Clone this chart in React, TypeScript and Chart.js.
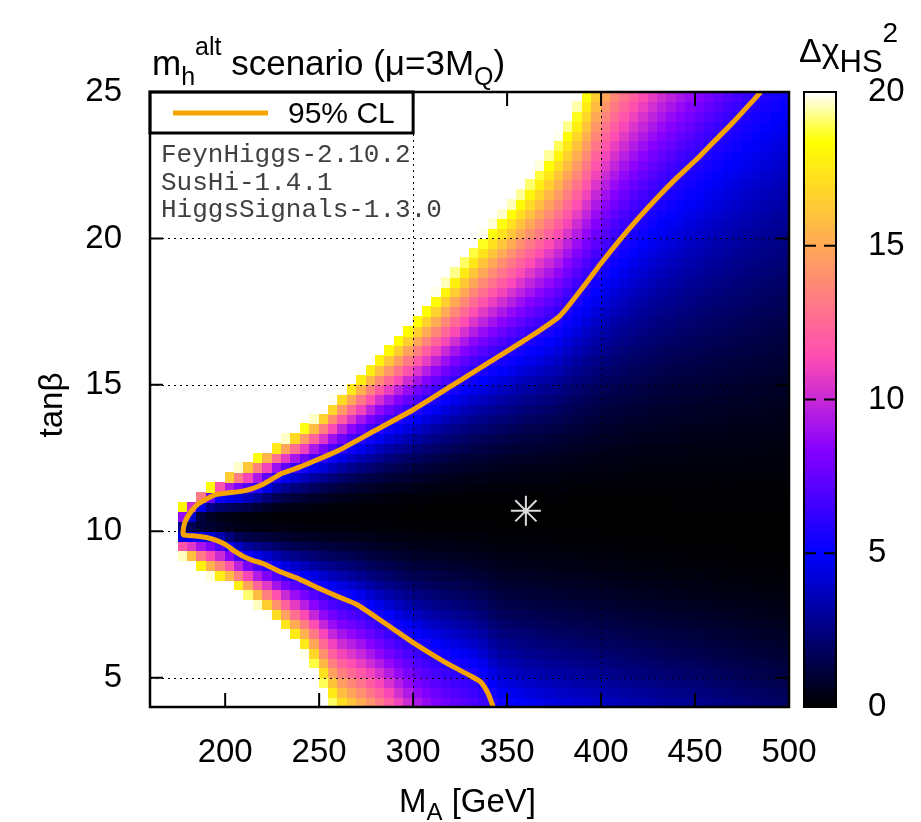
import React, { useEffect, useRef } from 'react';
import { Chart, registerables } from 'chart.js';

Chart.register(...registerables);

// ---------- data ----------
// Heatmap columns (M_A grid points, GeV)
const MA_COLUMNS = [
  175, 180, 185, 190, 195, 200, 205, 210, 215, 220,
  225, 230, 235, 240, 245, 250, 255, 260, 265, 270,
  275, 280, 285, 290, 295, 300, 305, 310, 315, 320,
  325, 330, 335, 340, 345, 350, 355, 360, 365, 370,
  375, 380, 385, 390, 395, 400, 405, 410, 415, 420,
  425, 430, 435, 440, 445, 450, 455, 460, 465, 470,
  475, 480, 485, 490, 495, 500,
];
// tanβ of the Δχ² minimum in each column
const CENTER_TANB = [
  10.0, 10.1, 10.2, 10.25, 10.3, 10.35, 10.4, 10.4, 10.45, 10.45,
  10.5, 10.5, 10.5, 10.5, 10.55, 10.55, 10.55, 10.6, 10.6, 10.6,
  10.6, 10.6, 10.65, 10.65, 10.65, 10.65, 10.65, 10.7, 10.7, 10.7,
  10.7, 10.7, 10.7, 10.7, 10.7, 10.7, 10.7, 10.7, 10.7, 10.65,
  10.65, 10.6, 10.6, 10.55, 10.5, 10.5, 10.45, 10.4, 10.4, 10.35,
  10.3, 10.3, 10.25, 10.2, 10.2, 10.15, 10.1, 10.1, 10.05, 10.0,
  10.0, 9.95, 9.9, 9.9, 9.85, 9.8,
];
// tanβ where Δχ² = 6 (95% CL), above the minimum
const UPPER_CL_TANB = [
  10.3, 10.45, 10.9, 11.1, 11.25, 11.3, 11.32, 11.38, 11.45, 11.6,
  11.8, 11.97, 12.1, 12.2, 12.35, 12.47, 12.6, 12.75, 12.92, 13.1,
  13.27, 13.45, 13.62, 13.8, 13.97, 14.15, 14.35, 14.55, 14.75, 14.95,
  15.17, 15.4, 15.57, 15.75, 15.95, 16.15, 16.35, 16.55, 16.75, 16.95,
  17.18, 17.5, 17.9, 18.3, 18.7, 19.15, 19.55, 19.95, 20.32, 20.7,
  21.05, 21.4, 21.72, 22.05, 22.35, 22.65, 22.97, 23.3, 23.62, 23.95,
  24.3, 24.65, 25.0, 25.35, 25.67, 26.0,
];
// tanβ where Δχ² = 6 (95% CL), below the minimum
const LOWER_CL_TANB = [
  9.75, 9.88, 9.83, 9.79, 9.7, 9.55, 9.32, 9.13, 9.0, 8.9,
  8.76, 8.6, 8.46, 8.35, 8.22, 8.05, 7.9, 7.77, 7.63, 7.5,
  7.3, 7.08, 6.86, 6.64, 6.42, 6.2, 6.0, 5.8, 5.6, 5.42,
  5.25, 5.08, 4.9, 4.45, 3.85, 3.67, 3.5, 3.35, 3.2, 3.05,
  2.9, 2.8, 2.7, 2.6, 2.5, 2.4, 2.25, 2.1, 1.95, 1.8,
  1.65, 1.5, 1.35, 1.25, 1.15, 1.05, 0.85, 0.65, 0.45, 0.25,
  0.05, -0.15, -0.35, -0.55, -0.75, -0.95,
];
// tanβ where Δχ² reaches 20 (white edge), above the minimum
const UPPER_MAX_TANB = [
  10.8, 11.05, 11.25, 11.45, 11.7, 11.9, 12.1, 12.3, 12.5, 12.7,
  12.9, 13.1, 13.3, 13.5, 13.75, 14.0, 14.35, 14.7, 15.0, 15.3,
  15.65, 16.0, 16.3, 16.6, 16.95, 17.3, 17.65, 18.0, 18.4, 18.8,
  19.2, 19.6, 20.0, 20.4, 20.75, 21.1, 21.5, 21.9, 22.35, 22.8,
  23.3, 23.8, 24.4, 25.0, 25.9, 26.9, 27.6, 28.2, 28.8, 29.3,
  29.8, 30.3, 30.7, 31.1, 31.5, 31.9, 32.3, 32.8, 33.3, 33.8,
  34.3, 34.8, 35.3, 35.8, 36.3, 36.8,
];
// tanβ where Δχ² reaches 20 (white edge), below the minimum
const LOWER_MAX_TANB = [
  9.2, 9.05, 8.8, 8.55, 8.4, 8.25, 8.1, 7.9, 7.6, 7.3,
  7.0, 6.7, 6.35, 6.0, 5.6, 4.95, 4.25, 3.6, 3.3, 3.0,
  2.7, 2.35, 2.0, 1.4, 0.7, 0.0, -0.7, -1.4, -2.1, -2.8,
  -3.5, -4.2, -4.9, -5.6, -6.2, -6.8, -7.1, -7.4, -7.6, -7.8,
  -8.0, -8.2, -8.4, -8.6, -8.8, -9.0, -9.2, -9.4, -9.6, -9.8,
  -10.0, -10.2, -10.4, -10.6, -10.8, -11.0, -11.2, -11.4, -11.6, -11.8,
  -12.0, -12.2, -12.4, -12.6, -12.8, -13.0,
];
const TANB_MIN = 4;
const TANB_MAX = 25;
const TANB_ROWS = 63;

// 95% CL contour line
const CL95_MA = [
  485, 470, 460, 450, 440, 430, 420, 410, 400, 390,
  378, 360, 340, 320, 300, 280, 260, 250, 240, 230,
  220, 210, 200, 195, 190, 185, 181, 178.5, 177.6, 177.8,
  179.5, 185, 190, 195, 200, 205, 210, 215, 220, 230,
  240, 250, 260, 270, 280, 290, 300, 310, 320, 330,
  336, 340, 342.6,
];
const CL95_TANB = [
  25.0, 23.95, 23.3, 22.65, 22.05, 21.4, 20.7, 19.95, 19.15, 18.3,
  17.35, 16.55, 15.75, 14.95, 14.15, 13.45, 12.75, 12.47, 12.2, 11.97,
  11.6, 11.38, 11.3, 11.25, 11.1, 10.9, 10.6, 10.3, 10.0, 9.88,
  9.86, 9.83, 9.79, 9.7, 9.55, 9.32, 9.13, 9.0, 8.9, 8.6,
  8.35, 8.05, 7.77, 7.5, 7.08, 6.64, 6.2, 5.8, 5.42, 5.08,
  4.85, 4.45, 4.0,
];
// best fit point
const BEST_FIT = { x: 360, y: 10.7 };

const X_TICKS = [200, 250, 300, 350, 400, 450, 500];
const Y_TICKS = [5, 10, 15, 20, 25];
const CB_TICKS = [0, 5, 10, 15, 20];
const GRID_X = [300, 400];
const GRID_Y = [5, 10, 15, 20];
const CL_LEVEL = 6;
const CB_MAX = 20;
const INFO_LINES = ['FeynHiggs-2.10.2', 'SusHi-1.4.1', 'HiggsSignals-1.3.0'];

// ---------- helpers ----------
const clamp01 = (v: number) => Math.max(0, Math.min(1, v));
// gnuplot rgbformulae 30,31,32
function palette(value: number): string {
  const x = clamp01(value / CB_MAX);
  const r = clamp01(x / 0.32 - 0.78125);
  const g = clamp01(2 * x - 0.84);
  let b: number;
  if (x < 0.25) b = 4 * x;
  else if (x < 0.42) b = 1;
  else if (x < 0.92) b = -2 * x + 1.84;
  else b = x / 0.08 - 11.5;
  b = clamp01(b);
  return `rgb(${Math.round(r * 255)},${Math.round(g * 255)},${Math.round(b * 255)})`;
}

const INNER_POWER = 1.8;
function chiAt(i: number, t: number): number {
  const c = CENTER_TANB[i];
  const s6 = Math.sqrt(CL_LEVEL);
  const s20 = Math.sqrt(CB_MAX);
  let cl: number, mx: number;
  if (t >= c) {
    cl = UPPER_CL_TANB[i];
    mx = UPPER_MAX_TANB[i];
  } else {
    cl = LOWER_CL_TANB[i];
    mx = LOWER_MAX_TANB[i];
  }
  const d = Math.abs(t - c);
  const dcl = Math.abs(cl - c);
  if (d <= dcl) return CL_LEVEL * Math.pow(d / dcl, INNER_POWER);
  const s = s6 + ((d - dcl) / Math.abs(mx - cl)) * (s20 - s6);
  return s * s;
}

const FONT = 'Liberation Sans';

function drawRich(ctx: CanvasRenderingContext2D, x: number, y: number,
  parts: { t: string; s: number; dy: number }[]) {
  let cx = x;
  ctx.textAlign = 'left';
  ctx.textBaseline = 'alphabetic';
  for (const p of parts) {
    ctx.font = `${p.s}px "${FONT}"`;
    ctx.fillText(p.t, cx, y + p.dy);
    cx += ctx.measureText(p.t).width;
  }
}

const heatmapPlugin = {
  id: 'heatmap',
  beforeDatasetsDraw(chart: any) {
    const { ctx, chartArea: a, scales } = chart;
    const xs = scales.x;
    const ys = scales.y;
    const rows: number[] = [];
    for (let k = 0; k <= TANB_ROWS; k++) rows.push(TANB_MIN + (k * (TANB_MAX - TANB_MIN)) / TANB_ROWS);
    const vals = MA_COLUMNS.map((_, i) => rows.map((t) => chiAt(i, t)));
    ctx.save();
    ctx.beginPath();
    ctx.rect(a.left, a.top, a.right - a.left, a.bottom - a.top);
    ctx.clip();
    for (let i = 0; i < MA_COLUMNS.length - 1; i++) {
      const x0 = Math.floor(xs.getPixelForValue(MA_COLUMNS[i]));
      const x1 = Math.ceil(xs.getPixelForValue(MA_COLUMNS[i + 1]));
      for (let j = 0; j < rows.length - 1; j++) {
        const v = (vals[i][j] + vals[i + 1][j] + vals[i][j + 1] + vals[i + 1][j + 1]) / 4;
        if (v >= CB_MAX) continue;
        const yTop = Math.floor(ys.getPixelForValue(rows[j + 1]));
        const yBot = Math.ceil(ys.getPixelForValue(rows[j]));
        ctx.fillStyle = palette(v);
        ctx.fillRect(x0, yTop, x1 - x0, yBot - yTop);
      }
    }
    // dotted grid
    ctx.strokeStyle = '#000';
    ctx.lineWidth = 1;
    ctx.setLineDash([2, 4]);
    for (const gx of GRID_X) {
      const px = Math.round(xs.getPixelForValue(gx)) + 0.5;
      ctx.beginPath();
      ctx.moveTo(px, a.top);
      ctx.lineTo(px, a.bottom);
      ctx.stroke();
    }
    for (const gy of GRID_Y) {
      const py = Math.round(ys.getPixelForValue(gy)) + 0.5;
      ctx.beginPath();
      ctx.moveTo(a.left, py);
      ctx.lineTo(a.right, py);
      ctx.stroke();
    }
    ctx.restore();
  },
};

const decorPlugin = {
  id: 'decor',
  afterDraw(chart: any) {
    const { ctx, chartArea: a, scales } = chart;
    const xs = scales.x;
    const ys = scales.y;
    const cb = scales.cb;
    ctx.save();
    ctx.setLineDash([]);
    ctx.strokeStyle = '#000';
    ctx.fillStyle = '#000';

    // inward ticks
    ctx.lineWidth = 2;
    for (const v of X_TICKS) {
      const px = xs.getPixelForValue(v);
      if (px >= a.right - 1) continue;
      ctx.beginPath();
      ctx.moveTo(px, a.bottom);
      ctx.lineTo(px, a.bottom - 14);
      ctx.moveTo(px, a.top);
      ctx.lineTo(px, a.top + 14);
      ctx.stroke();
    }
    for (const v of Y_TICKS) {
      const py = ys.getPixelForValue(v);
      if (py <= a.top + 1) continue;
      ctx.beginPath();
      ctx.moveTo(a.left, py);
      ctx.lineTo(a.left + 13, py);
      ctx.moveTo(a.right, py);
      ctx.lineTo(a.right - 13, py);
      ctx.stroke();
    }

    // legend box
    const lbRight = xs.getPixelForValue(300);
    ctx.fillStyle = '#fff';
    ctx.fillRect(a.left, a.top, lbRight - a.left, 41);
    ctx.lineWidth = 3;
    ctx.strokeStyle = '#000';
    ctx.strokeRect(a.left, a.top, lbRight - a.left, 41);
    ctx.strokeStyle = 'rgb(245,163,0)';
    ctx.lineWidth = 5;
    ctx.beginPath();
    ctx.moveTo(a.left + 23, a.top + 21);
    ctx.lineTo(a.left + 118, a.top + 21);
    ctx.stroke();
    ctx.fillStyle = '#000';
    ctx.font = `30px "${FONT}"`;
    ctx.textAlign = 'left';
    ctx.textBaseline = 'alphabetic';
    ctx.fillText('95% CL', a.left + 138, a.top + 31);

    // info text
    ctx.fillStyle = '#404040';
    ctx.font = '26px "Liberation Mono"';
    INFO_LINES.forEach((line, k) => {
      ctx.fillText(line, a.left + 11, a.top + 70 + k * 27.5);
    });

    // plot border
    ctx.strokeStyle = '#000';
    ctx.lineWidth = 2.5;
    ctx.strokeRect(a.left, a.top, a.right - a.left, a.bottom - a.top);

    // colour bar
    const cbLeft = 804;
    const cbWidth = 32;
    const steps = 200;
    for (let k = 0; k < steps; k++) {
      const v0 = (k / steps) * CB_MAX;
      const v1 = ((k + 1) / steps) * CB_MAX;
      const y0 = cb.getPixelForValue(v0);
      const y1 = cb.getPixelForValue(v1);
      ctx.fillStyle = palette((v0 + v1) / 2);
      ctx.fillRect(cbLeft, Math.floor(y1), cbWidth, Math.ceil(y0) - Math.floor(y1));
    }
    ctx.lineWidth = 2;
    ctx.strokeStyle = '#000';
    for (const v of CB_TICKS) {
      if (v <= 0 || v >= CB_MAX) continue;
      const py = cb.getPixelForValue(v);
      ctx.beginPath();
      ctx.moveTo(cbLeft, py);
      ctx.lineTo(cbLeft + 12, py);
      ctx.moveTo(cbLeft + cbWidth, py);
      ctx.lineTo(cbLeft + cbWidth - 12, py);
      ctx.stroke();
    }
    ctx.strokeRect(cbLeft, cb.top, cbWidth, cb.bottom - cb.top);

    // titles
    ctx.fillStyle = '#000';
    drawRich(ctx, 152, 75, [
      { t: 'm', s: 35, dy: 0 },
      { t: 'h', s: 25, dy: 10 },
      { t: 'alt', s: 25, dy: -20 },
      { t: ' scenario (μ=3M', s: 35, dy: 0 },
      { t: 'Q', s: 25, dy: 10 },
      { t: ')', s: 35, dy: 0 },
    ]);
    drawRich(ctx, 399, 812, [
      { t: 'M', s: 33, dy: 0 },
      { t: 'A', s: 24, dy: 8 },
      { t: ' [GeV]', s: 33, dy: 0 },
    ]);
    drawRich(ctx, 799, 62, [
      { t: 'Δχ', s: 34, dy: 0 },
      { t: 'HS', s: 31, dy: 10 },
      { t: '2', s: 28, dy: -20 },
    ]);
    ctx.save();
    ctx.translate(62, 405);
    ctx.rotate(-Math.PI / 2);
    ctx.font = `33px "${FONT}"`;
    ctx.textAlign = 'center';
    ctx.textBaseline = 'alphabetic';
    ctx.fillText('tanβ', 0, 0);
    ctx.restore();

    ctx.restore();
  },
};

export default function App() {
  const ref = useRef<HTMLCanvasElement>(null);
  useEffect(() => {
    if (!ref.current) return;
    const tickFont = { family: FONT, size: 33 };
    const chart = new Chart(ref.current, {
      type: 'scatter',
      data: {
        datasets: [
          {
            label: '95% CL',
            data: CL95_MA.map((x, k) => ({ x, y: CL95_TANB[k] })),
            showLine: true,
            borderColor: 'rgb(245,163,0)',
            borderWidth: 5,
            pointRadius: 0,
            tension: 0.2,
            fill: false,
          } as any,
          {
            label: 'best fit',
            data: [BEST_FIT],
            pointStyle: 'star',
            pointRadius: 15,
            pointBorderWidth: 2,
            pointBorderColor: '#dcdcdc',
            pointBackgroundColor: '#dcdcdc',
            showLine: false,
          } as any,
        ],
      },
      options: {
        responsive: false,
        animation: false,
        devicePixelRatio: 1,
        events: [],
        layout: { padding: { top: 92, left: 0, right: 0, bottom: 0 } },
        plugins: {
          legend: { display: false },
          tooltip: { enabled: false },
          title: { display: false },
        },
        scales: {
          x: {
            type: 'linear',
            position: 'bottom',
            min: 160,
            max: 500,
            grid: { display: false, drawTicks: false },
            border: { display: false },
            afterBuildTicks: (s: any) => { s.ticks = X_TICKS.map((value) => ({ value })); },
            afterFit: (s: any) => { s.height = 115; },
            ticks: { font: tickFont, color: '#000', padding: 26, maxRotation: 0, autoSkip: false },
          },
          y: {
            type: 'linear',
            position: 'left',
            min: TANB_MIN,
            max: TANB_MAX,
            grid: { display: false, drawTicks: true, tickLength: 28 },
            border: { display: false },
            afterBuildTicks: (s: any) => { s.ticks = Y_TICKS.map((value) => ({ value })); },
            afterFit: (s: any) => { s.width = 150; },
            ticks: { font: tickFont, color: '#000', padding: 0, autoSkip: false },
          },
          cb: {
            type: 'linear',
            position: 'right',
            min: 0,
            max: CB_MAX,
            grid: { display: false, drawTicks: true, tickLength: 79 },
            border: { display: false },
            afterBuildTicks: (s: any) => { s.ticks = CB_TICKS.map((value) => ({ value })); },
            afterFit: (s: any) => { s.width = 132; },
            ticks: { font: tickFont, color: '#000', padding: 0, autoSkip: false },
          },
        } as any,
      },
      plugins: [heatmapPlugin, decorPlugin],
    } as any);
    return () => chart.destroy();
  }, []);
  return (
    <div style={{ position: 'fixed', left: 0, top: 0, width: 921, height: 822, background: '#fff' }}>
      <canvas ref={ref} width={921} height={822} style={{ display: 'block', width: 921, height: 822 }} />
    </div>
  );
}
